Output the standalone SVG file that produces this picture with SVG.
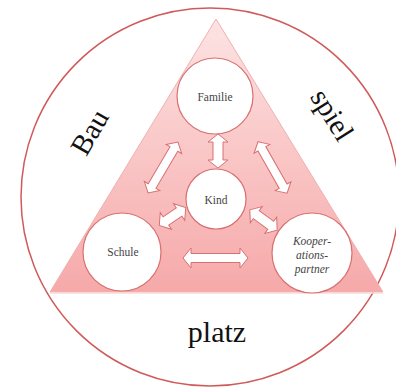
<svg xmlns="http://www.w3.org/2000/svg" width="396" height="390" viewBox="0 0 396 390">
<defs>
<linearGradient id="tri" x1="0" y1="0" x2="0" y2="1">
<stop offset="0" stop-color="#fde3e3"/>
<stop offset="1" stop-color="#f6a9a9"/>
</linearGradient>
<style>
.node{fill:#fff;stroke:#d87070;stroke-width:1.2}
.arr{fill:#fff;stroke:#d87070;stroke-width:1}
.lbl{font-family:"Liberation Serif",serif;font-size:11.5px;fill:#444;text-anchor:middle}
.big{font-family:"Liberation Serif",serif;fill:#111;text-anchor:middle}
</style>
</defs>
<rect width="396" height="390" fill="#fff"/>
<circle cx="210" cy="197" r="189" fill="#fff" stroke="#d05a5a" stroke-width="1.5"/>
<polygon points="216,19 383,292 50,292" fill="url(#tri)" stroke="#f0b0b0" stroke-width="1"/>
<line x1="50" y1="293" x2="383" y2="293" stroke="#f8d8d8" stroke-width="1.5"/>
<text class="big" font-size="29" transform="translate(98,137) rotate(-60)">Bau</text>
<text class="big" font-size="29" transform="translate(324,120) rotate(58)">spiel</text>
<text class="big" font-size="30" x="217" y="342">platz</text>
<g id="connectors">
<path class="arr" transform="translate(218,151) rotate(90)" d="M-17,0 L-9,-10 L-9,-5 L9,-5 L9,-10 L17,0 L9,10 L9,5 L-9,5 L-9,10 Z"/>
<path class="arr" transform="translate(163,167.5) rotate(-59.5)" d="M-29.5,0 L-21.5,-9 L-21.5,-4.5 L21.5,-4.5 L21.5,-9 L29.5,0 L21.5,9 L21.5,4.5 L-21.5,4.5 L-21.5,9 Z"/>
<path class="arr" transform="translate(272.5,167.5) rotate(60.4)" d="M-29.5,0 L-21.5,-9 L-21.5,-4.5 L21.5,-4.5 L21.5,-9 L29.5,0 L21.5,9 L21.5,4.5 L-21.5,4.5 L-21.5,9 Z"/>
<path class="arr" transform="translate(172.5,216.5) rotate(-34.2)" d="M-16,0 L-8,-10 L-8,-5 L8,-5 L8,-10 L16,0 L8,10 L8,5 L-8,5 L-8,10 Z"/>
<path class="arr" transform="translate(263.5,220) rotate(36.5)" d="M-17,0 L-9,-10 L-9,-5 L9,-5 L9,-10 L17,0 L9,10 L9,5 L-9,5 L-9,10 Z"/>
<path class="arr" transform="translate(215.5,258)" d="M-32.5,0 L-24.5,-10 L-24.5,-4.5 L24.5,-4.5 L24.5,-10 L32.5,0 L24.5,10 L24.5,4.5 L-24.5,4.5 L-24.5,10 Z"/>
</g>
<g id="familie"><circle class="node" cx="215" cy="96" r="38"/><text class="lbl" x="215" y="101">Familie</text></g>
<g id="kind"><circle class="node" cx="216" cy="199" r="30"/><text class="lbl" x="216" y="204">Kind</text></g>
<g id="schule"><circle class="node" cx="122" cy="252" r="39"/><text class="lbl" x="123" y="256">Schule</text></g>
<g id="kooperationspartner"><circle class="node" cx="312" cy="253" r="40"/>
<text class="lbl" font-style="italic" x="312" y="245">Kooper-</text>
<text class="lbl" font-style="italic" x="312" y="259">ations-</text>
<text class="lbl" font-style="italic" x="312" y="273">partner</text></g>
</svg>
